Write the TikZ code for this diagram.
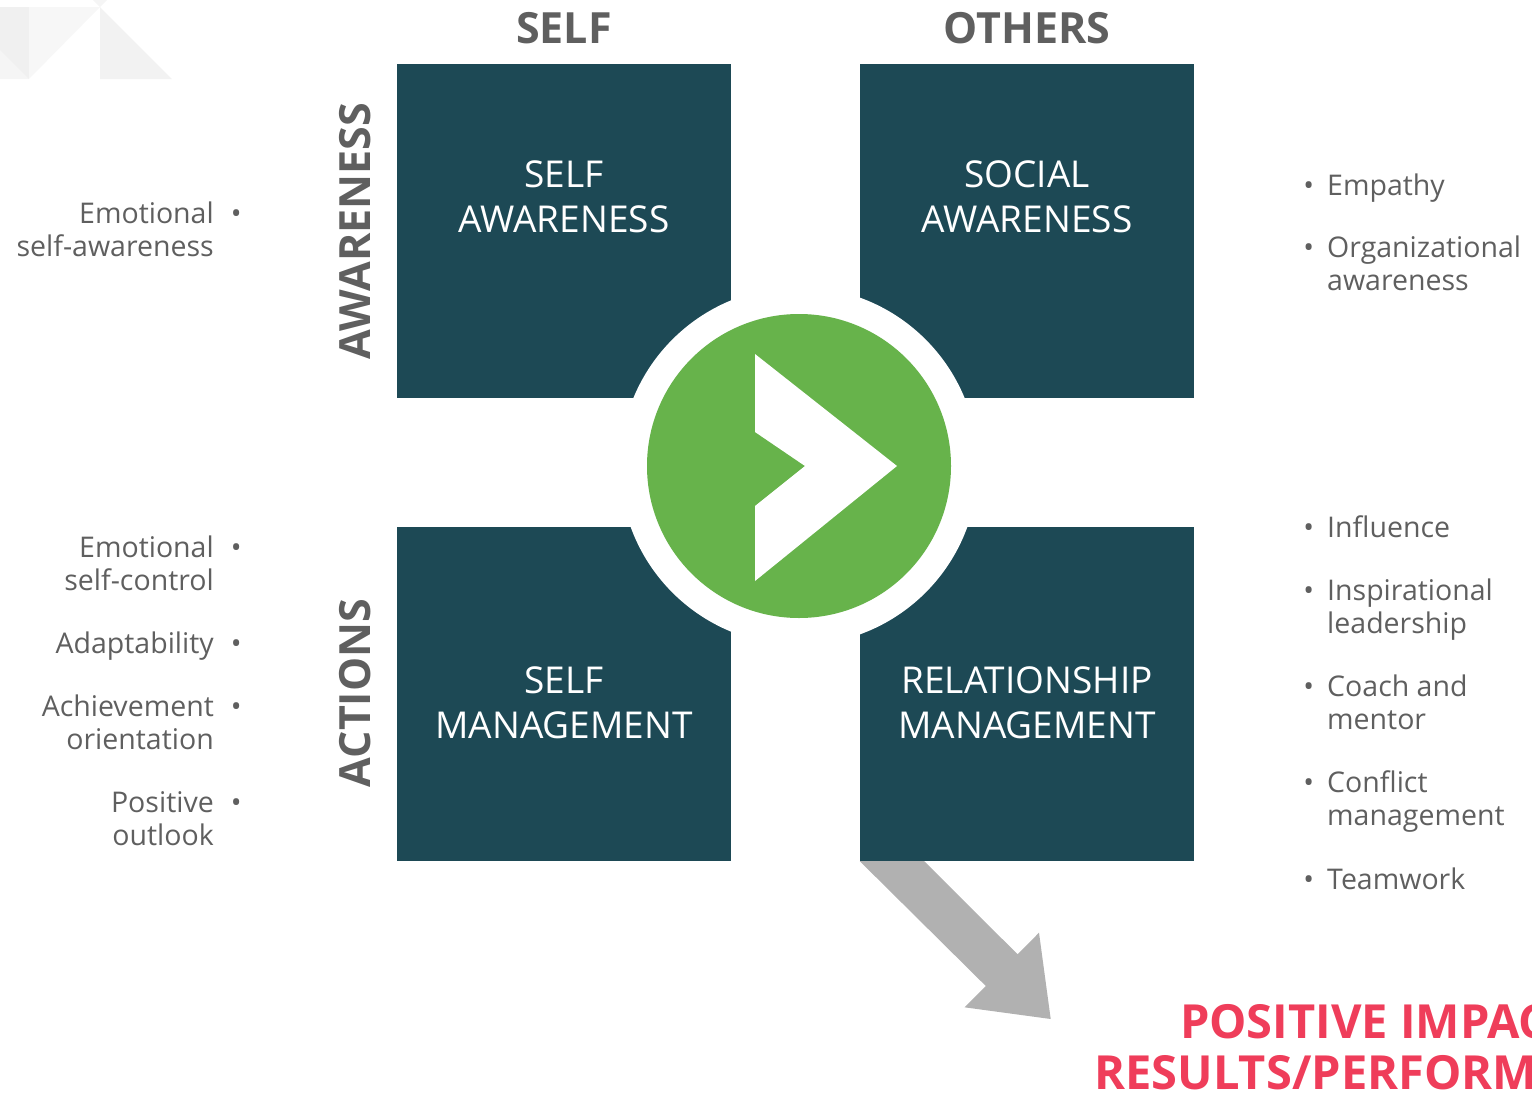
\documentclass[tikz,border=0pt]{standalone}
\usepackage{fontspec}
\setmainfont{Open Sans}
\definecolor{quadteal}{HTML}{1D4955}
\definecolor{playgreen}{HTML}{67B34B}
\definecolor{txtgray}{HTML}{5F5F5F}
\definecolor{arrowgray}{HTML}{B1B1B1}
\definecolor{impactred}{HTML}{EF3D5A}
\tikzset{
  quad/.style={fill=quadteal, minimum size=334pt, inner sep=0pt},
  quadtext/.style={text=white, align=center, inner sep=0pt, font=\fontsize{37}{45}\selectfont},
  head/.style={text=txtgray, inner sep=0pt, font=\fontsize{43}{50}\selectfont\bfseries},
  item/.style={text=txtgray, inner sep=0pt, font=\fontsize{28.5}{32.5}\selectfont},
  leftitem/.style={item, align=right, anchor=base east},
  rightitem/.style={item, align=left, anchor=base west},
}
\newcommand{\lbul}{\rlap{\hspace{17pt}•}}
\newcommand{\rbul}{\llap{•\hspace{13pt}}}
\begin{document}
\begin{tikzpicture}[x=1pt,y=-1pt]
\useasboundingbox (0,0) rectangle (1532,1098);
\clip (0,0) rectangle (1532,1098);
% faint corner pattern
\fill[black!6] (0,7) rectangle (29,79);
\fill[black!4] (0,50) -- (29,79) -- (0,79) -- cycle;
\fill[black!3] (29,7) -- (100,7) -- (29,79) -- cycle;
\fill[black!5] (100,7) -- (100,79) -- (172,79) -- cycle;
\fill[black!4] (93,0) -- (100,7) -- (107,0) -- cycle;
%
% column and row headings
\node[head] (self) at (564,28) {SELF};
\node[head] (others) at (1027,28) {OTHERS};
\node[head, rotate=90] (awareness) at (355,231) {AWARENESS};
\node[head, rotate=90] (actions) at (355,693) {ACTIONS};
%
% the four quadrants
\node[quad] (sa) at (564,231) {};
\node[quad] (soa) at (1027,231) {};
\node[quad] (sm) at (564,694) {};
\node[quad] (rm) at (1027,694) {};
%
\node[quadtext] (satext) at (564,197) {SELF\\AWARENESS};
\node[quadtext] (soatext) at (1027,197) {SOCIAL\\AWARENESS};
\node[quadtext] (smtext) at (564,703) {SELF\\MANAGEMENT};
\node[quadtext] (rmtext) at (1027,703) {RELATIONSHIP\\MANAGEMENT};
%
% play button
\node[circle, fill=white, minimum size=358pt, inner sep=0pt] (ring) at (799,466) {};
\node[circle, fill=playgreen, minimum size=304pt, inner sep=0pt] (play) at (ring) {};
\fill[white] (755,354) -- (897,466) -- (755,581) -- (755,506) -- (805,466) -- (755,432) -- cycle;
%
% left lists (base = last line)
\node[leftitem] (esa) at (214,256) {Emotional\lbul\\self-awareness};
\node[leftitem] (esc) at (214,590) {Emotional\lbul\\self-control};
\node[leftitem] (adapt) at (214,653) {Adaptability\lbul};
\node[leftitem] (achieve) at (214,749) {Achievement\lbul\\orientation};
\node[leftitem] (outlook) at (214,845) {Positive\lbul\\outlook};
%
% right lists
\node[rightitem] (empathy) at (1327,195) {\rbul Empathy};
\node[rightitem] (orgaw) at (1327,290) {\rbul Organizational\\awareness};
\node[rightitem] (influence) at (1327,537) {\rbul Influence};
\node[rightitem] (inspire) at (1327,633) {\rbul Inspirational\\leadership};
\node[rightitem] (coach) at (1327,729) {\rbul Coach and\\mentor};
\node[rightitem] (conflict) at (1327,825) {\rbul Conflict\\management};
\node[rightitem] (team) at (1327,889) {\rbul Teamwork};
%
% outcome
\fill[arrowgray] (rm.south west) -- (924,861) -- (1017.6,954.3) -- (1039,932.7)
  -- (1050.7,1019) -- (964.5,1007.3) -- (985.8,986) -- cycle;
\node[text=impactred, inner sep=0pt, align=right, anchor=base east,
  font=\fontsize{47}{51}\selectfont\bfseries] (impact) at (1664,1089)
  {POSITIVE IMPACT ON\\RESULTS/PERFORMANCE};
\end{tikzpicture}
\end{document}
